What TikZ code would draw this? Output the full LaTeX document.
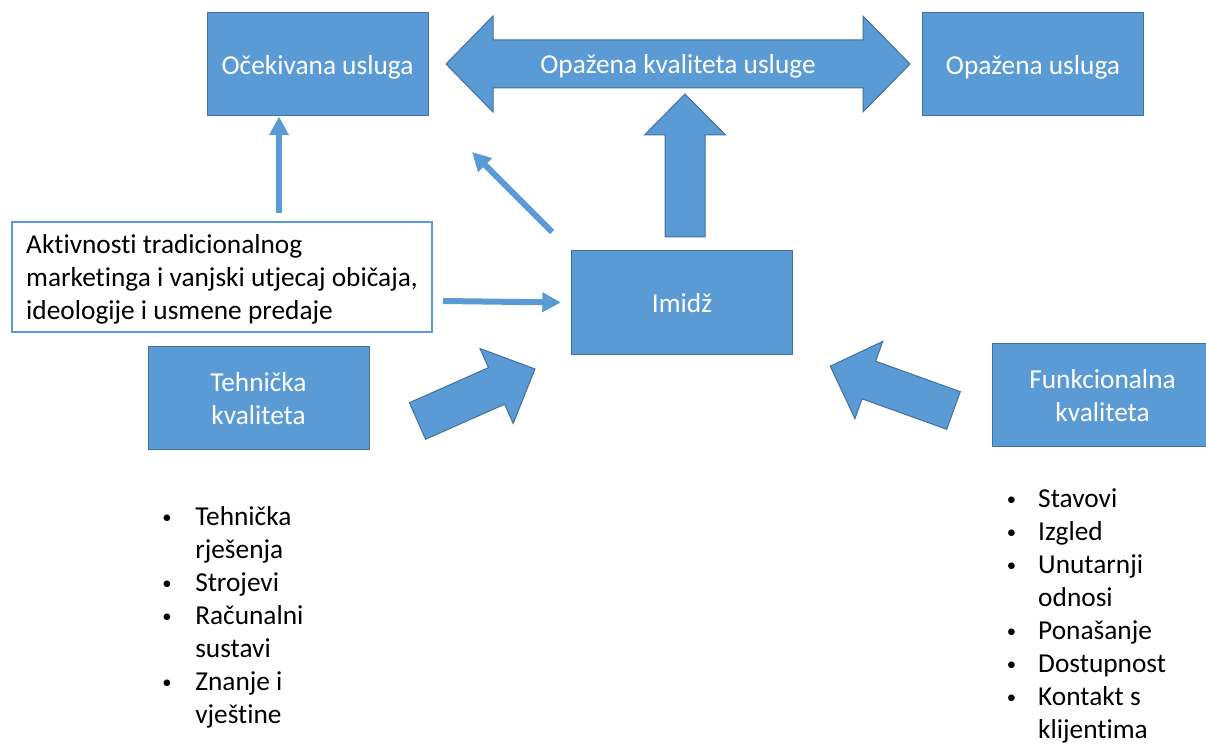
\documentclass[tikz,border=0pt]{standalone}
\usepackage{fontspec}
\setmainfont{Carlito}[Ligatures=NoCommon]
\usetikzlibrary{arrows.meta}
\definecolor{boxblue}{HTML}{5B9BD5}
\definecolor{edgeblue}{HTML}{41719C}
\newcommand{\bs}{\rule[-4.6pt]{0pt}{24.2pt}}
\newcommand{\blt}{\raisebox{1.5pt}{\fontsize{14}{14}\selectfont\textbullet}}

\begin{document}
\begin{tikzpicture}[x=0.75pt, y=-0.75pt,
    box/.style={rectangle, draw=edgeblue, line width=0.75pt, fill=boxblue, text=white, align=center, minimum width=165.75pt, minimum height=77.25pt, inner sep=0pt, font=\fontsize{20.5}{24.75}\selectfont},
    note/.style={rectangle, draw=boxblue, line width=1pt, fill=white, align=left, minimum width=315pt, minimum height=82.5pt, inner sep=0pt, font=\fontsize{20.5}{24.75}\selectfont},
    fat/.style={draw=edgeblue, line width=0.75pt, fill=boxblue},
    link/.style={-{Triangle[width=14pt,length=14pt]}, line width=4.5pt, draw=boxblue},
    itemlist/.style={anchor=north west, inner sep=0pt, font=\fontsize{20.5}{24.75}\selectfont}
]
    \useasboundingbox (0,0) rectangle (1206,745);

    \node[box] (ocek) at (317.5,64.5) {\bs Očekivana usluga};
    \node[box] (opaz) at (1033,64.5) {\bs Opažena usluga};
    \node[box] (imidz) at (682,302.5) {\bs Imidž};
    \node[box] (teh) at (258.5,398) {\bs Tehnička\\\bs kvaliteta};
    \node[box] (funk) at (1102.5,395) {\bs Funkcionalna\\\bs kvaliteta};
    \node[note] (trad) at (222,277) {\bs Aktivnosti tradicionalnog\\\bs marketinga i vanjski utjecaj običaja,\\\bs ideologije i usmene predaje};

    % double arrow between the two services
    \draw[fat] (446,64) -- (493,16) -- (493,40) -- (863,40) -- (863,16) -- (910,64)
        -- (863,112) -- (863,88) -- (493,88) -- (493,112) -- cycle;
    \node[text=white, inner sep=0pt, font=\fontsize{20.5}{24.75}\selectfont] (pkval) at (678,64) {\bs Opažena kvaliteta usluge};

    % block arrows
    \draw[fat, shift={(685,237)}, rotate=90] (0,-20) -- (102,-20) -- (102,-40.5) -- (143,0)
        -- (102,40.5) -- (102,20) -- (0,20) -- cycle;
    \draw[fat, shift={(417.5,421)}, rotate=23.9] (0,-20) -- (86.5,-20) -- (86.5,-41) -- (128.5,0)
        -- (86.5,41) -- (86.5,20) -- (0,20) -- cycle;
    \draw[fat, shift={(953.5,410.5)}, rotate=160.2] (0,-20) -- (90,-20) -- (90,-41) -- (131,0)
        -- (90,41) -- (90,20) -- (0,20) -- cycle;

    % thin arrows
    \coordinate (t1) at (279,213);
    \coordinate (t2) at (443,301);
    \coordinate (t3) at (552,232);
    \coordinate (t4) at (472,152);
    \draw[link] (t1) -- (t1 |- ocek.south);
    \draw[link] (t2) -- ([xshift=-7.5pt]imidz.west);
    \draw[link] (t3) -- (t4);

    \node[itemlist] (tehlist) at (162,502) {\begin{tabular}{@{}l@{}l@{}}
        \makebox[24.75pt][l]{\blt} & Tehnička\\
        & rješenja\\
        \blt & Strojevi\\
        \blt & Računalni\\
        & sustavi\\
        \blt & Znanje i\\
        & vještine
    \end{tabular}};
    \node[itemlist] (funklist) at (1006.5,484) {\begin{tabular}{@{}l@{}l@{}}
        \makebox[23.6pt][l]{\blt} & Stavovi\\
        \blt & Izgled\\
        \blt & Unutarnji\\
        & odnosi\\
        \blt & Ponašanje\\
        \blt & Dostupnost\\
        \blt & Kontakt s\\
        & klijentima
    \end{tabular}};
\end{tikzpicture}
\end{document}
